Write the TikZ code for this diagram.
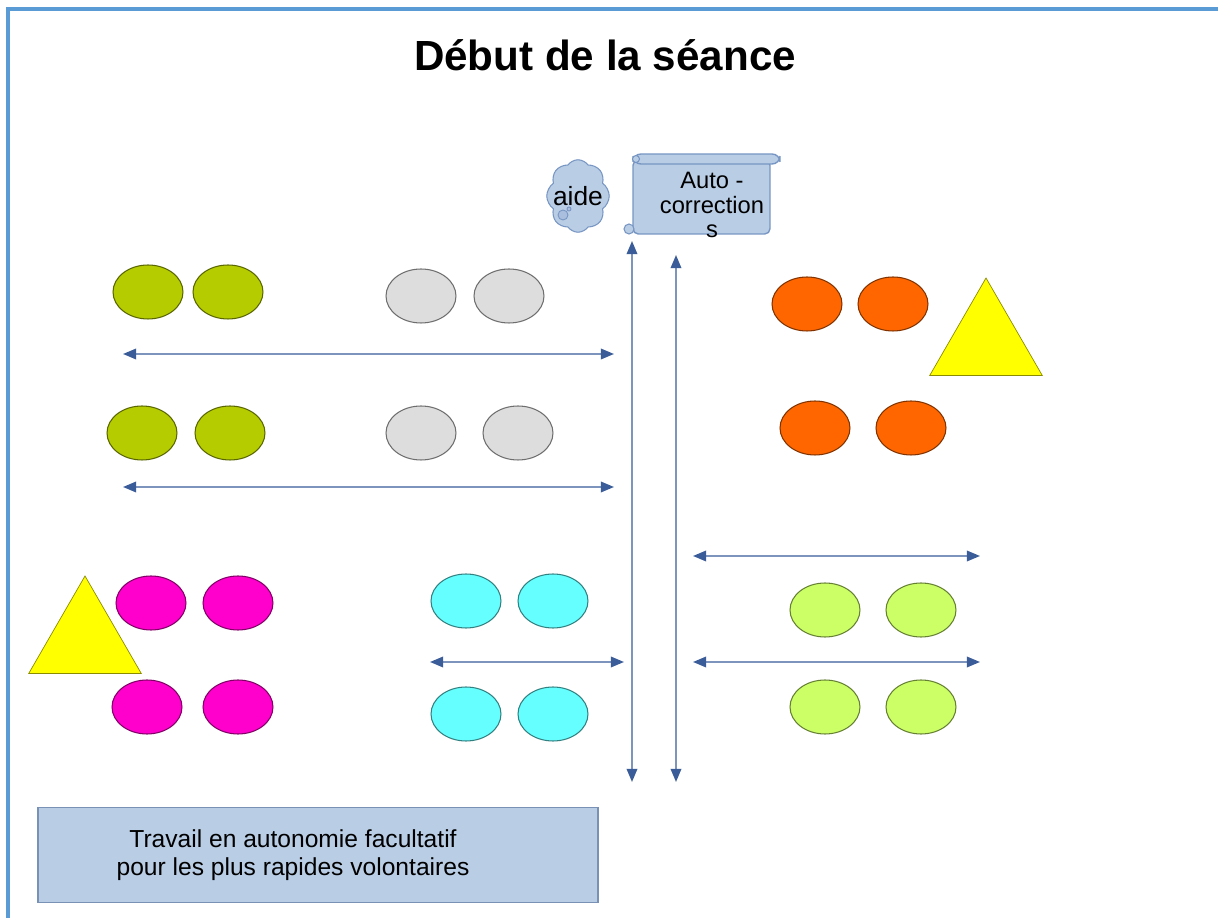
\documentclass[tikz,border=0pt]{standalone}
\usepackage{fontspec}
\setmainfont{Liberation Sans}
\usetikzlibrary{shapes.geometric,shapes.symbols,arrows.meta}
\definecolor{cvert}{RGB}{181,204,0}
\definecolor{cgris}{RGB}{221,221,221}
\definecolor{corange}{RGB}{255,102,0}
\definecolor{cmagenta}{RGB}{255,0,204}
\definecolor{ccyan}{RGB}{102,255,255}
\definecolor{cvertclair}{RGB}{204,255,102}
\definecolor{cjaune}{RGB}{255,255,0}
\definecolor{cfond}{RGB}{185,205,229}
\definecolor{cbord}{RGB}{120,150,195}
\definecolor{cfleche}{RGB}{125,148,188}
\definecolor{cpointe}{RGB}{58,92,152}
\definecolor{ccadre}{RGB}{91,155,213}
\begin{document}
\begin{tikzpicture}[x=0.02cm,y=-0.02cm,
  pion/.style={ellipse,draw=#1!50!black,fill=#1,line width=0.6pt,minimum width=1.4cm,minimum height=1.08cm,inner sep=0pt},
  triangle/.style={regular polygon,regular polygon sides=3,draw=cjaune!55!black,fill=cjaune,minimum size=2.6cm,inner sep=0pt},
  fleche/.style={<->,>={Triangle[length=7.5pt,width=6pt,color=cpointe]},draw=cfleche,line width=1.1pt},
  parch/.style={draw=cbord,fill=cfond,line width=0.8pt}]
\useasboundingbox (0,0) rectangle (1218,918);
\draw[ccadre,line width=2.2pt] (8,918) -- (8,9) -- (1218,9);
\node[font=\bfseries\fontsize{24}{28}\selectfont] (titre) at (605,55) {Début de la séance};

% groupes de tables
\foreach \nom/\x/\y/\c in {v1/148/292/cvert,v2/228/292/cvert,v3/142/433/cvert,v4/230/433/cvert,
  g1/421/296/cgris,g2/509/296/cgris,g3/421/433/cgris,g4/518/433/cgris,
  o1/807/304/corange,o2/893/304/corange,o3/815/428/corange,o4/911/428/corange,
  m1/151/603/cmagenta,m2/238/603/cmagenta,m3/147/707/cmagenta,m4/238/707/cmagenta,
  c1/466/601/ccyan,c2/553/601/ccyan,c3/466/714/ccyan,c4/553/714/ccyan,
  l1/825/610/cvertclair,l2/921/610/cvertclair,l3/825/707/cvertclair,l4/921/707/cvertclair}
{\node[pion=\c](\nom) at (\x,\y){};
}
\node[triangle] (t1) at (986,343) {};
\node[triangle] (t2) at (85,641) {};

% fleches
\foreach \n/\xa/\xb/\y in {1/123/614/354,2/123/614/487,3/693/980/556,4/430/624/662,5/693/980/662}
{\coordinate (g\n) at (\xa,\y);
 \coordinate (d\n) at (\xb,\y);
 \draw[fleche] (g\n)--(d\n);
}
\coordinate (h1) at (632,241);
\coordinate (b1) at (632,782);
\coordinate (h2) at (676,255);
\coordinate (b2) at (676,782);
\draw[fleche] (h1)--(b1);
\draw[fleche] (h2)--(b2);

% aide et auto-corrections
\node[cloud,cloud puffs=8,cloud puff arc=110,cloud ignores aspect,draw=cbord,fill=cfond,line width=0.6pt,minimum width=1.25cm,minimum height=1.45cm,inner sep=0pt] (nuage) at (578,196) {};
\draw[parch,fill=cfond!75!cbord,line width=0.5pt] (563,215) circle (0.1cm) (569,209) circle (0.04cm);
\node[font=\fontsize{15}{15}\selectfont] (aide) at (nuage.center) {aide};
\draw[parch,rounded corners=3pt] (633,160) rectangle (770,234);
\draw[parch,rounded corners=4.5pt] (633,154) rectangle (780,164);
\draw[parch,line width=0.6pt] (636,159) circle (0.07cm);
\draw[parch,line width=0.6pt] (629,229) circle (0.1cm);
\node[align=center,font=\fontsize{13.5}{14.2}\selectfont] (autocorr) at (712,205) {Auto -\\correction\\s\hspace{0.4cm}};

% travail en autonomie
\node[draw=cbord!80!gray,fill=cfond,line width=1pt,minimum width=11.2cm,minimum height=1.9cm] (travail) at (318,855) {};
\node[align=center,font=\fontsize{14}{15.9}\selectfont] (texte) at ([xshift=-0.5cm]travail.center) {Travail en autonomie facultatif\\ pour les plus rapides volontaires};
\end{tikzpicture}
\end{document}
